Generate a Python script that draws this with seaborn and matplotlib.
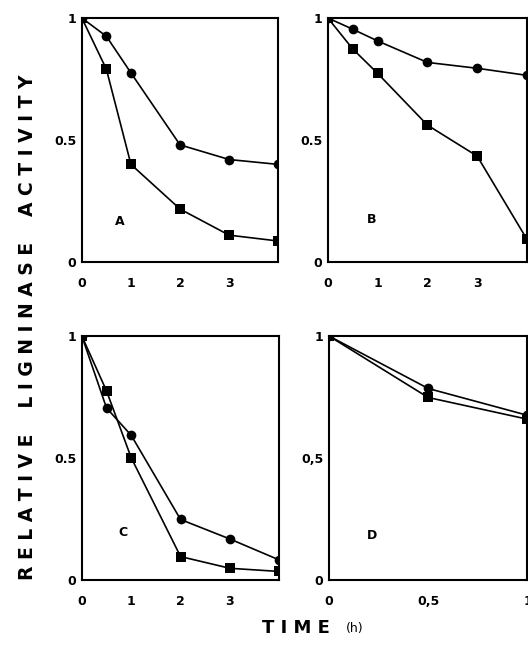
"""Relative ligninase activity over time, four panels (A-D)."""

import matplotlib

matplotlib.use("Agg")

import matplotlib.pyplot as plt
import pandas as pd
import seaborn as sns

# panel A-C share the same sampling times (h)
TIME_ABC = [0, 0.5, 1, 2, 3, 4]
TIME_D = [0, 0.5, 1]

A_CIRCLE = [1.0, 0.925, 0.775, 0.48, 0.42, 0.40]
A_SQUARE = [1.0, 0.79, 0.40, 0.217, 0.11, 0.086]

B_CIRCLE = [1.0, 0.954, 0.906, 0.818, 0.794, 0.765]
B_SQUARE = [1.0, 0.873, 0.773, 0.561, 0.434, 0.093]

C_CIRCLE = [1.0, 0.705, 0.593, 0.248, 0.168, 0.082]
C_SQUARE = [1.0, 0.775, 0.501, 0.096, 0.048, 0.035]

D_CIRCLE = [1.0, 0.785, 0.675]
D_SQUARE = [1.0, 0.748, 0.659]

PANELS = ["A", "B", "C", "D"]
X_TICKS = {"A": [0, 1, 2, 3], "B": [0, 1, 2, 3], "C": [0, 1, 2, 3], "D": [0, 0.5, 1]}
X_TICK_LABELS = {
    "A": ["0", "1", "2", "3"],
    "B": ["0", "1", "2", "3"],
    "C": ["0", "1", "2", "3"],
    "D": ["0", "0,5", "1"],
}
Y_TICK_LABELS = {
    "A": ["0", "0.5", "1"],
    "B": ["0", "0.5", "1"],
    "C": ["0", "0.5", "1"],
    "D": ["0", "0,5", "1"],
}
# panel letter positions in data units
LETTER_POS = {"A": (0.68, 0.15), "B": (0.78, 0.16), "C": (0.73, 0.18), "D": (0.19, 0.17)}


def build_frame() -> pd.DataFrame:
    rows = []
    series = {
        "A": (TIME_ABC, A_CIRCLE, A_SQUARE),
        "B": (TIME_ABC, B_CIRCLE, B_SQUARE),
        "C": (TIME_ABC, C_CIRCLE, C_SQUARE),
        "D": (TIME_D, D_CIRCLE, D_SQUARE),
    }
    for panel, (times, circ, sq) in series.items():
        for t, v in zip(times, circ):
            rows.append({"panel": panel, "time": t, "activity": v, "series": "circle"})
        for t, v in zip(times, sq):
            rows.append({"panel": panel, "time": t, "activity": v, "series": "square"})
    return pd.DataFrame(rows)


sns.set_style("white")
plt.rcParams["font.family"] = ["DejaVu Sans"]
plt.rcParams["font.weight"] = "bold"
plt.rcParams["text.color"] = "black"
plt.rcParams["xtick.color"] = "black"
plt.rcParams["ytick.color"] = "black"

df = build_frame()

fig = plt.figure(figsize=(5.28, 6.55), dpi=100)
# left, bottom, width, height (figure fractions)
boxes = {
    "A": [0.155, 0.600, 0.372, 0.3725],
    "B": [0.621, 0.600, 0.377, 0.3725],
    "C": [0.155, 0.1145, 0.374, 0.3725],
    "D": [0.623, 0.1145, 0.376, 0.3725],
}

for panel in PANELS:
    ax = fig.add_axes(boxes[panel])
    sub = df[df["panel"] == panel]
    sns.lineplot(
        data=sub,
        x="time",
        y="activity",
        style="series",
        markers={"circle": "o", "square": "s"},
        dashes=False,
        color="black",
        linewidth=1.2,
        markersize=7,
        markeredgewidth=0,
        legend=False,
        ax=ax,
    )
    ax.set_xlim(0, 1 if panel == "D" else 4)
    ax.set_ylim(0, 1)
    ax.set_xticks(X_TICKS[panel])
    ax.set_xticklabels(X_TICK_LABELS[panel], fontweight="bold", fontsize=9)
    ax.set_yticks([0, 0.5, 1])
    ax.set_yticklabels(Y_TICK_LABELS[panel], fontweight="bold", fontsize=9)
    ax.tick_params(axis="x", direction="in", length=3, width=1, pad=11)
    ax.tick_params(axis="y", direction="in", length=3, width=1, pad=4)
    ax.set_xlabel("")
    ax.set_ylabel("")
    for spine in ax.spines.values():
        spine.set_visible(True)
        spine.set_color("black")
        spine.set_linewidth(1.5)
    lx, ly = LETTER_POS[panel]
    ax.text(lx, ly, panel, transform=ax.transData, fontsize=9, fontweight="bold")

fig.text(
    0.053,
    0.50,
    "R E L A T I V E    L I G N I N A S E    A C T I V I T Y",
    rotation=90,
    ha="center",
    va="center",
    fontsize=13.5,
    fontweight="bold",
)
fig.text(0.56, 0.041, "T I M E", ha="center", va="center", fontsize=13, fontweight="bold")
fig.text(0.672, 0.041, "(h)", ha="center", va="center", fontsize=9, fontweight="normal")

fig.savefig("out.png", dpi=100)
